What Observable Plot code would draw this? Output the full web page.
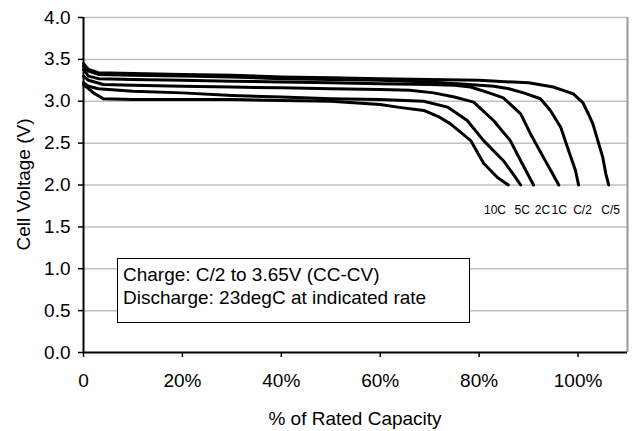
<!DOCTYPE html>
<html>
<head>
<meta charset="utf-8">
<script src="https://cdn.jsdelivr.net/npm/d3@7"></script>
<script src="https://cdn.jsdelivr.net/npm/@observablehq/plot@0.6"></script>
<style>
  html, body { margin: 0; padding: 0; background: #fff; }
  #wrap { position: relative; width: 633px; height: 431px; font-family: "Liberation Sans", Arial, sans-serif; }
  #note { position: absolute; left: 117px; top: 258px; width: 353px; height: 65px; box-sizing: border-box;
          border: 1.5px solid #000; background: #fff; font-size: 19px; line-height: 23px; padding: 4px 0 0 5px; color: #000; white-space: nowrap; }
</style>
</head>
<body>
<div id="wrap"></div>
<script>
// Series: [% of rated capacity, cell voltage (V)]
const seriesNames = ["C/5", "C/2", "1C", "2C", "5C", "10C"];
const cC5 = [[0,3.45],[1,3.38],[3,3.34],[10,3.33],[20,3.32],[30,3.31],[40,3.29],[50,3.28],[60,3.27],[70,3.26],[80,3.25],[90,3.22],[95,3.17],[97,3.13],[99,3.09],[101,2.98],[102,2.86],[103,2.73],[104,2.53],[105,2.33],[105.6,2.14],[106.2,2.0]];
const cC2 = [[0,3.42],[1,3.36],[3,3.32],[10,3.31],[20,3.3],[30,3.29],[40,3.27],[50,3.26],[60,3.25],[70,3.23],[78,3.2],[83,3.18],[86,3.15],[89,3.1],[92.4,3.03],[94.4,2.89],[96.5,2.69],[98.1,2.41],[99.5,2.17],[100.1,2.0]];
const c1C = [[0,3.38],[1,3.3],[3,3.27],[10,3.26],[20,3.25],[30,3.24],[40,3.23],[50,3.22],[60,3.21],[70,3.2],[75,3.19],[78.3,3.17],[82,3.1],[84.9,3.04],[88.4,2.85],[90.4,2.61],[93,2.33],[94.8,2.14],[96.1,2.0]];
const c2C = [[0,3.3],[1,3.25],[4,3.2],[10,3.19],[20,3.18],[30,3.17],[40,3.16],[50,3.15],[60,3.14],[66,3.13],[70.8,3.1],[75,3.05],[78.9,2.99],[82.9,2.77],[86.3,2.53],[88.4,2.29],[91,2.0]];
const c5C = [[0,3.22],[1,3.18],[3,3.15],[10,3.12],[20,3.1],[30,3.07],[40,3.05],[50,3.03],[60,3.02],[68.8,3.0],[73.6,2.93],[77.6,2.77],[80.9,2.53],[84.9,2.29],[87,2.12],[88.4,2.0]];
const c10C = [[0,3.2],[1,3.15],[2,3.1],[4,3.03],[10,3.02],[20,3.02],[30,3.02],[40,3.01],[50,3.0],[60,2.96],[63.5,2.93],[68.8,2.89],[72,2.81],[74.2,2.73],[78.3,2.53],[80.9,2.26],[83.7,2.09],[85.9,2.0]];
const curves = [cC5, cC2, c1C, c2C, c5C, c10C];

// End-of-curve rate labels
const rateLabels = ["10C", "5C", "2C", "1C", "C/2", "C/5"];
const rateLabelX = [83.2, 88.7, 92.8, 96.2, 100.9, 106.6];
const rateLabelY = 1.7;

const xTicks = [0, 20, 40, 60, 80, 100];
const yTicks = [0, 0.5, 1, 1.5, 2, 2.5, 3, 3.5, 4];

const data = curves.flatMap((c, i) => c.map(([x, y]) => ({series: seriesNames[i], x, y})));
const labels = rateLabels.map((t, i) => ({t, x: rateLabelX[i], y: rateLabelY}));

const W = 633, H = 431, ML = 83, MR = 6, MT = 17, MB = 79;
const chart = Plot.plot({
  width: W, height: H,
  marginLeft: ML, marginRight: MR, marginTop: MT, marginBottom: MB,
  style: {fontFamily: "'Liberation Sans', Arial, sans-serif", fontSize: "19px", color: "#000", background: "#fff"},
  x: {domain: [0, 110]},
  y: {domain: [0, 4]},
  marks: [
    Plot.ruleY(yTicks.filter(d => d > 0), {stroke: "#c0c0c0", strokeWidth: 1.5}),
    Plot.ruleX([110], {stroke: "#999", strokeWidth: 2}),
    Plot.line(data, {x: "x", y: "y", z: "series", stroke: "#000", strokeWidth: 3, strokeLinejoin: "round", strokeLinecap: "round"}),
    Plot.text(labels, {x: "x", y: "y", text: "t", fontSize: 12, fill: "#000"}),
    Plot.axisY({ticks: yTicks, tickFormat: d => d.toFixed(1), tickSize: 5, tickPadding: 8, label: null, fontSize: 19, strokeWidth: 1.5}),
    Plot.axisX({ticks: xTicks, tickFormat: d => d === 0 ? "0" : d + "%", tickSize: 5, tickPadding: 16, label: null, fontSize: 19, strokeWidth: 1.5}),
    Plot.ruleX([0], {stroke: "#000", strokeWidth: 2}),
    Plot.ruleY([0], {stroke: "#000", strokeWidth: 2})
  ]
});

const svg = d3.select(chart);
svg.append("text")
  .attr("transform", `translate(23,${(MT + H - MB) / 2}) rotate(-90)`)
  .attr("text-anchor", "middle").attr("dy", "0.35em")
  .attr("font-size", 19).attr("fill", "#000")
  .text("Cell Voltage (V)");
svg.append("text")
  .attr("x", ML + (W - ML - MR) / 2).attr("y", 418)
  .attr("text-anchor", "middle").attr("dy", "0.35em")
  .attr("font-size", 19).attr("fill", "#000")
  .text("% of Rated Capacity");

const wrap = document.getElementById("wrap");
wrap.appendChild(chart);
const note = document.createElement("div");
note.id = "note";
note.innerHTML = "Charge: C/2 to 3.65V (CC-CV)<br>Discharge: 23degC at indicated rate";
wrap.appendChild(note);
</script>
</body>
</html>
